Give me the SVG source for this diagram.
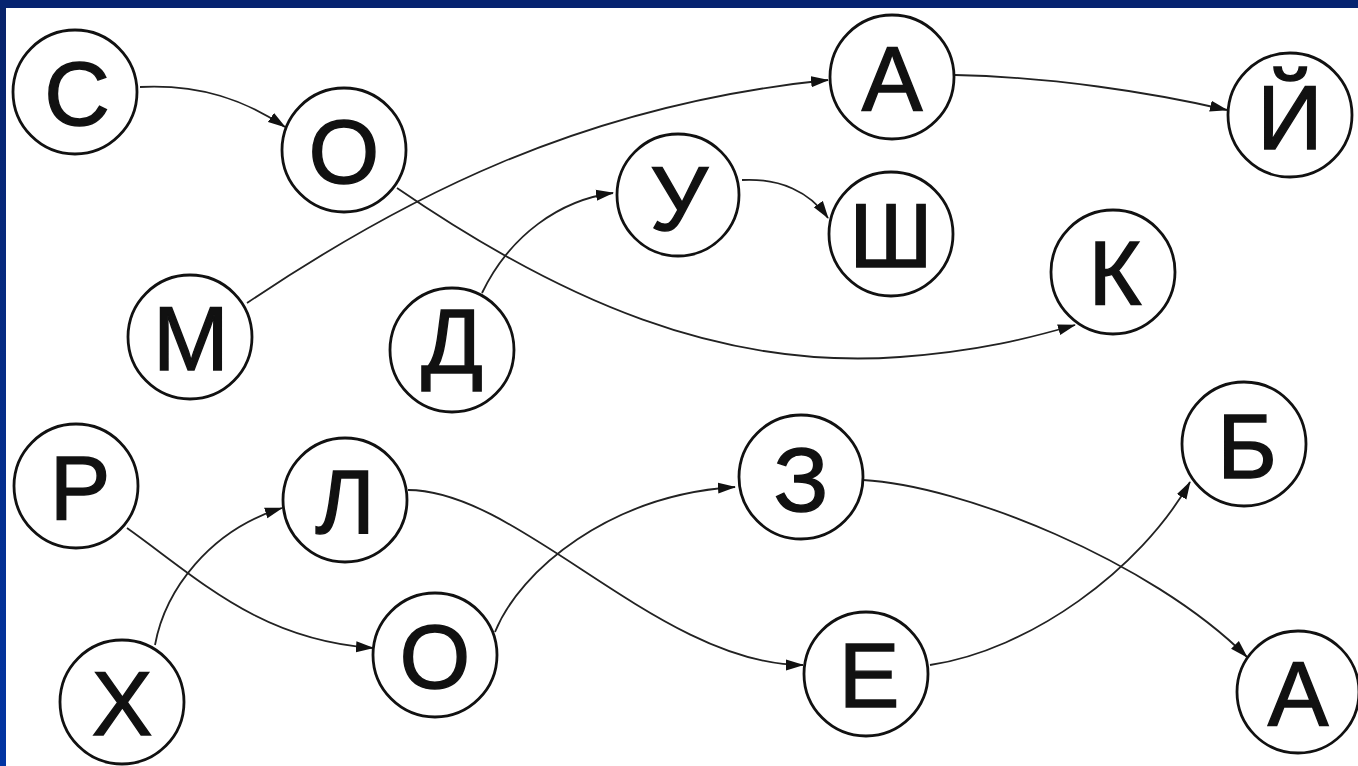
<svg xmlns="http://www.w3.org/2000/svg" width="1358" height="766" viewBox="0 0 1358 766">
<defs>
<linearGradient id="side" x1="0" y1="0" x2="0" y2="1">
<stop offset="0" stop-color="#08236a"/>
<stop offset="1" stop-color="#0235a3"/>
</linearGradient>
<marker id="arr" markerUnits="userSpaceOnUse" markerWidth="18" markerHeight="12" refX="17" refY="6" orient="auto">
<path d="M0,0.5 L18,6 L0,11.5 z" fill="#111"/>
</marker>
<style>
.n circle{fill:#fff;stroke:#111;stroke-width:2.8}
.n text{font-family:"Liberation Sans",Arial,sans-serif;font-size:91px;fill:#111;stroke:#111;stroke-width:1.4;text-anchor:middle}
#edges path{fill:none;stroke:#222;stroke-width:1.8;marker-end:url(#arr)}
</style>
</defs>
<rect x="0" y="0" width="1358" height="766" fill="#fff"/>
<rect x="0" y="0" width="6" height="766" fill="url(#side)"/>
<rect x="0" y="0" width="1358" height="8" fill="#062370"/>
<g id="edges">
<path d="M140,87 C200,84 245,100 285,127"/>
<path d="M397,188 C560,300 720,370 900,357 C980,351 1030,338 1075,325"/>
<path d="M247,303 C400,200 580,105 828,80"/>
<path d="M955,75 C1050,77 1150,92 1227,110"/>
<path d="M482,293 C510,235 560,200 613,193"/>
<path d="M742,180 C780,178 810,192 828,218"/>
<path d="M127,528 C200,580 260,640 373,648"/>
<path d="M155,645 C165,590 210,530 282,508"/>
<path d="M408,490 C520,490 660,665 803,665"/>
<path d="M495,632 C520,570 610,495 735,487"/>
<path d="M863,480 C960,485 1150,560 1247,657"/>
<path d="M930,665 C1030,650 1140,570 1190,482"/>
</g>
<g id="n-S" class="n"><circle cx="75" cy="92" r="62"/><text x="77" y="125">С</text></g>
<g id="n-O1" class="n"><circle cx="344" cy="150" r="62"/><text x="344" y="183">О</text></g>
<g id="n-M" class="n"><circle cx="190" cy="337" r="62"/><text x="191" y="370">М</text></g>
<g id="n-D" class="n"><circle cx="452" cy="350" r="62"/><text x="452" y="373">Д</text></g>
<g id="n-U" class="n"><circle cx="678" cy="195" r="61"/><text x="679" y="230">У</text></g>
<g id="n-A1" class="n"><circle cx="892" cy="77" r="62"/><text x="892" y="110">А</text></g>
<g id="n-Sh" class="n"><circle cx="891" cy="234" r="62"/><text x="891" y="267">Ш</text></g>
<g id="n-J" class="n"><circle cx="1290" cy="115" r="62"/><text x="1290" y="149">Й</text></g>
<g id="n-K" class="n"><circle cx="1113" cy="272" r="62"/><text x="1115" y="305">К</text></g>
<g id="n-R" class="n"><circle cx="76" cy="486" r="62"/><text x="80" y="519">Р</text></g>
<g id="n-L" class="n"><circle cx="345" cy="500" r="62"/><text x="345" y="533">Л</text></g>
<g id="n-O2" class="n"><circle cx="435" cy="655" r="62"/><text x="435" y="688">О</text></g>
<g id="n-Kh" class="n"><circle cx="122" cy="702" r="62"/><text x="122" y="735">Х</text></g>
<g id="n-Z" class="n"><circle cx="801" cy="477" r="62"/><text x="801" y="511">З</text></g>
<g id="n-E" class="n"><circle cx="866" cy="674" r="62"/><text x="869" y="707">Е</text></g>
<g id="n-B" class="n"><circle cx="1244" cy="444" r="62"/><text x="1247" y="478">Б</text></g>
<g id="n-A2" class="n"><circle cx="1298" cy="692" r="61"/><text x="1298" y="725">А</text></g>
</svg>
